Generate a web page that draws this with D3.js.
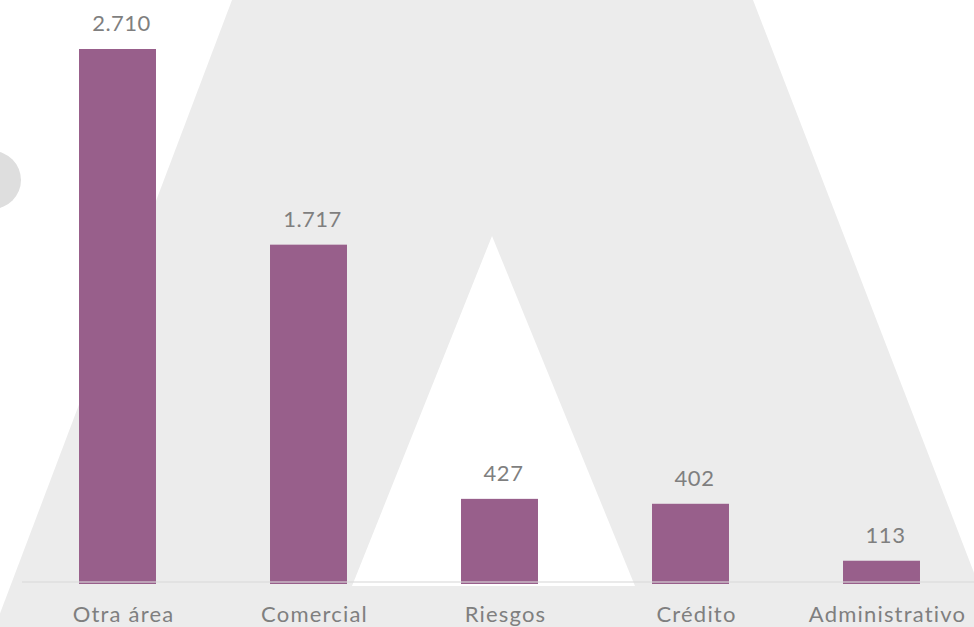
<!DOCTYPE html>
<html>
<head>
<meta charset="utf-8">
<script src="https://cdn.jsdelivr.net/npm/d3@7"></script>
<style>
  html, body { margin: 0; padding: 0; background: #ffffff; }
  svg { display: block; }
</style>
</head>
<body>
<svg id="chart" width="974" height="627"></svg>
<script>
const categories = ["Otra área", "Comercial", "Riesgos", "Crédito", "Administrativo"];
const values = [2710, 1717, 427, 402, 113];

const W = 974, H = 627;
const svg = d3.select("#chart");

// Decorative background (logo-like "A" shape and circle)
const bg = svg.append("g");
bg.append("polygon")
  .attr("points", "232,0 753,0 1000,640 -10,640")
  .attr("fill", "#ececec");
bg.append("polygon")
  .attr("points", "492,236 352,586 635,586")
  .attr("fill", "#ffffff");
bg.append("circle")
  .attr("cx", -8).attr("cy", 180).attr("r", 29)
  .attr("fill", "#dedede");

const locale = d3.formatLocale({ decimal: ",", thousands: ".", grouping: [3], currency: ["", "€"] });
const fmt = locale.format(",d");

const x = d3.scaleBand()
  .domain(categories)
  .range([22, 977])
  .paddingInner(0.597)
  .paddingOuter(0.2985);

const y = d3.scaleLinear()
  .domain([0, d3.max(values)])
  .range([583, 49]);

// bars
svg.append("g")
  .selectAll("rect")
  .data(values)
  .join("rect")
  .attr("x", (d, i) => x(categories[i]))
  .attr("width", x.bandwidth())
  .attr("y", d => y(d))
  .attr("height", d => y(0) - y(d) + 1)
  .attr("fill", "#985f8b");

// axis
const axis = svg.append("g")
  .attr("transform", `translate(0,582)`)
  .call(d3.axisBottom(x).tickSize(0).tickPadding(0));
axis.select(".domain")
  .attr("d", "M22,0H974")
  .attr("stroke", "#d9d9d9")
  .attr("stroke-opacity", 0.75)
  .attr("stroke-width", 1.5);
axis.selectAll(".tick text")
  .attr("y", 40)
  .attr("dy", 0)
  .attr("dx", 6)
  .attr("fill", "#7f7f7f")
  .style("font-family", "Lato, 'Open Sans', sans-serif")
  .style("font-size", "22px")
  .style("letter-spacing", "1.2px");

// value labels
svg.append("g")
  .selectAll("text")
  .data(values)
  .join("text")
  .attr("x", (d, i) => x(categories[i]) + x.bandwidth() / 2 + 4)
  .attr("y", d => y(d) - 18)
  .attr("text-anchor", "middle")
  .attr("fill", "#7f7f7f")
  .style("font-family", "Lato, 'Open Sans', sans-serif")
  .style("font-size", "22px")
  .style("letter-spacing", "0.5px")
  .text(d => fmt(d));
</script>
</body>
</html>
